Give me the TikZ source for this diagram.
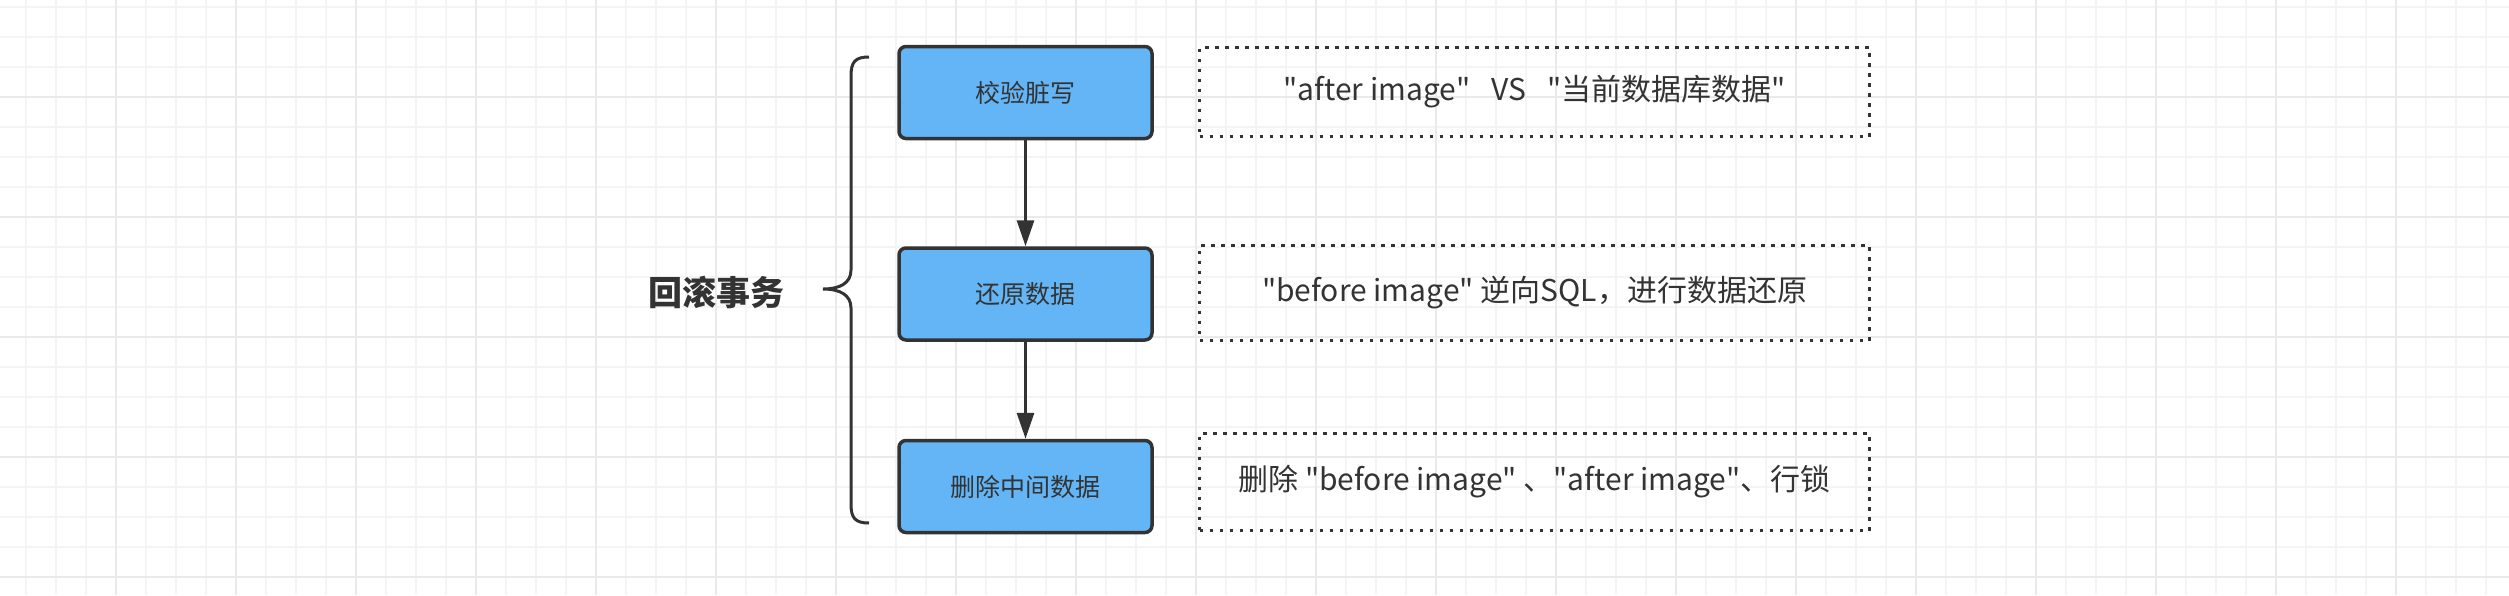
\documentclass[tikz,border=0pt]{standalone}
\usepackage{fontspec}
\newfontfamily\cjk{Noto Sans CJK SC}
\usetikzlibrary{
  arrows.meta,
  positioning,
}
\definecolor{stepblue}{RGB}{100, 181, 246}
\definecolor{inkgray}{RGB}{51, 51, 51}
\definecolor{gridminor}{RGB}{244, 244, 244}
\definecolor{gridmajor}{RGB}{234, 234, 234}
\tikzstyle{stepbox} = [
  rectangle,
  draw=inkgray,
  line width=3.5pt,
  fill=stepblue,
  rounded corners=7pt,
  minimum width=253pt,
  minimum height=92pt,
  font=\cjk\fontsize{25}{30}\selectfont,
  text=inkgray,
]
\tikzstyle{notebox} = [
  rectangle,
  draw=inkgray,
  line width=3.5pt,
  dash pattern=on 3.5pt off 6.5pt,
  minimum width=670pt,
  font=\cjk\fontsize{30}{35}\selectfont,
  text=inkgray,
]
\tikzstyle{flow} = [
  -{Triangle[length=26pt,width=17pt]},
  line width=3pt,
  inkgray,
]

\begin{document}
\begin{tikzpicture}[x=1pt, y=-1pt]
  \useasboundingbox (0,0) rectangle (2509,595);
  % grid
  \draw[gridminor, line width=1.5pt]
    foreach \gx in {26,56,...,2509} {(\gx,0) -- (\gx,595)}
    foreach \gy in {7,37,...,595} {(0,\gy) -- (2509,\gy)};
  \draw[gridmajor, line width=1.5pt]
    foreach \gx in {116,236,...,2509} {(\gx,0) -- (\gx,595)}
    foreach \gy in {97,217,...,595} {(0,\gy) -- (2509,\gy)};
  % steps
  \node[stepbox] (check)   at (1025.5,92.5)  {校验脏写};
  \node[stepbox] (restore) at (1025.5,294)   {还原数据};
  \node[stepbox] (clean)   at (1025.5,486.5) {删除中间数据};
  \draw[flow] (check) -- (restore);
  \draw[flow] (restore) -- (clean);
  % notes
  \node[notebox, minimum height=89pt] (checknote) at (1534.5,92)
    {"after image"\hspace{0.7em}VS\hspace{0.7em}"当前数据库数据"};
  \node[notebox, minimum height=95pt] (restorenote) at (1534.5,293)
    {"before image" 逆向SQL，进行数据还原};
  \node[notebox, minimum height=97pt] (cleannote) at (1534.5,482)
    {删除 "before image" 、"after image"、行锁};
  % brace
  \draw[inkgray, line width=3pt]
    (869,57) .. controls (855,57) and (851,62) .. (851,76) -- (851,270)
    .. controls (851,283) and (840,289) .. (823,289)
    .. controls (840,289) and (851,295) .. (851,308) -- (851,504)
    .. controls (851,518) and (855,523) .. (869,523);
  \node[font=\cjk\fontsize{34}{40}\selectfont\bfseries, text=inkgray] (rollback) at (716,292) {回滚事务};
\end{tikzpicture}
\end{document}
